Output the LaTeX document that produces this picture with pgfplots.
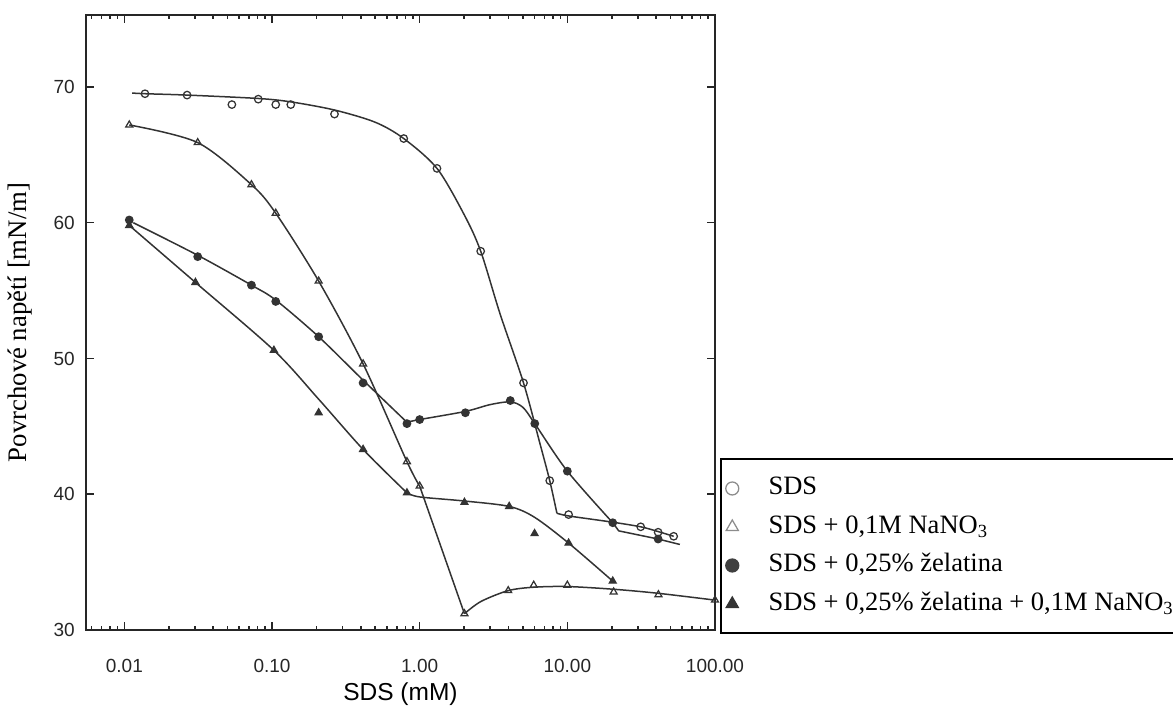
\documentclass[border=0pt]{standalone}
\usepackage{fontspec}
\setmainfont{Liberation Serif}
\setsansfont{Liberation Sans}
\usepackage{pgfplots}
\pgfplotsset{compat=1.18}
\pgfplotsset{
  mk/.style={only marks, black!80, line width=0.5pt,
    legend image code/.code={\path[draw=none, fill=none] (0pt,0pt) (15pt,0pt);
      \draw[mark repeat=2, mark phase=2, ##1]
      plot coordinates {(0pt,0pt) (3.5pt,0pt) (15pt,0pt)};}},
  crv/.style={black!80, line width=0.6pt, forget plot},
}

\begin{document}
\begin{tikzpicture}
\begin{axis}[
  at={(0,0)}, anchor=south west,
  scale only axis, width=251.6pt, height=246pt,
  xmode=log, xmin=0.0055, xmax=100, ymin=30, ymax=75.3,
  xtick={0.01,0.1,1,10,100},
  xticklabels={0.01,0.10,1.00,10.00,100.00},
  minor xtick={0.006,0.007,0.008,0.009,0.02,0.03,0.04,0.05,0.06,0.07,0.08,0.09,
    0.2,0.3,0.4,0.5,0.6,0.7,0.8,0.9,2,3,4,5,6,7,8,9,20,30,40,50,60,70,80,90},
  ytick={30,40,50,60,70},
  tick align=inside,
  major tick length=3.2pt, minor tick length=1.6pt,
  axis line style={line width=0.9pt, black!85},
  every tick/.style={black!85, line width=0.6pt},
  tick label style={font=\sffamily\fontsize{7.6}{9}\selectfont, black!85},
  /pgf/number format/assume math mode=true,
  xticklabel style={yshift=-8pt},
  yticklabel style={xshift=-1pt},
  xlabel={SDS (mM)},
  ylabel={Povrchové napětí [mN/m]},
  xlabel style={font=\sffamily\fontsize{9.8}{11}\selectfont,
    at={(axis description cs:0.5,-0.104)}, anchor=center},
  ylabel style={font=\fontsize{10.7}{12}\selectfont,
    at={(axis description cs:-0.105,0.5)}, anchor=center},
  clip mode=individual,
  legend cell align=left,
  legend style={at={(axis description cs:1.008,-0.0065)}, anchor=south west,
    draw=black, line width=0.8pt, fill=white,
    inner xsep=1pt, inner ysep=3.9pt,
    font=\fontsize{10.6}{12}\selectfont,
    nodes={inner xsep=3pt, inner ysep=2.8pt, text height=7.4pt, text depth=2.4pt}},
]

% --- markers ---
\addplot[mk, mark=o, mark size=1.5pt,
  legend image post style={mark size=2.6pt, black!45}]
table {
x y
0.0138 69.5
0.0266 69.4
0.0535 68.7
0.0807 69.1
0.106 68.7
0.134 68.7
0.265 68.0
0.78 66.2
1.31 64.0
2.59 57.9
5.05 48.2
7.6 41.0
10.2 38.5
31.4 37.6
41.2 37.2
52.5 36.9
};
\addlegendentry{SDS}

\addplot[mk, mark=triangle, mark size=1.6pt,
  legend image post style={mark size=2.8pt, black!45}]
table {
x y
0.0108 67.2
0.0314 65.9
0.0726 62.8
0.106 60.7
0.207 55.7
0.414 49.6
0.82 42.4
1.0 40.6
2.01 31.2
3.98 32.9
5.92 33.3
10 33.3
20.6 32.8
41.4 32.6
100 32.2
};
\addlegendentry{SDS + 0,1M NaNO\textsubscript{3}}

\addplot[mk, mark=*, mark size=1.5pt,
  legend image post style={mark size=2.6pt, black!75}]
table {
x y
0.0108 60.2
0.0314 57.5
0.0726 55.4
0.106 54.2
0.207 51.6
0.414 48.2
0.82 45.2
1.0 45.5
2.04 46.0
4.11 46.9
6.02 45.2
10 41.7
20.3 37.9
41.2 36.7
};
\addlegendentry{SDS + 0,25\% želatina}

\addplot[mk, mark=triangle*, mark size=1.6pt,
  legend image post style={mark size=2.8pt, black!80}]
table {
x y
0.0108 59.8
0.0303 55.6
0.103 50.6
0.207 46.0
0.414 43.3
0.82 40.1
2.01 39.4
4.04 39.1
6.0 37.1
10.2 36.4
20.3 33.6
};
\addlegendentry{SDS + 0,25\% želatina + 0,1M NaNO\textsubscript{3}}

% --- hand-drawn curves ---
% SDS
\addplot[crv, smooth, tension=0.5] table {
x y
0.0113 69.55
0.0138 69.5
0.0266 69.4
0.0807 69.15
0.134 68.9
0.265 68.3
0.5 67.4
0.78 66.2
1.31 64.0
2.0 60.6
2.59 57.9
3.5 53.3
5.05 48.2
6.5 43.8
7.6 41.0
8.5 38.6
};
\addplot[crv, smooth, tension=0.5] table {
x y
8.5 38.6
10.2 38.4
20 37.95
31.4 37.6
41.2 37.25
52.5 36.9
};
% SDS + NaNO3
\addplot[crv, smooth, tension=0.5] table {
x y
0.0108 67.2
0.0314 65.9
0.0726 62.8
0.106 60.7
0.207 55.7
0.414 49.6
0.82 42.4
1.0 40.6
};
\addplot[crv] table {
x y
1.0 40.6
2.01 31.2
};
\addplot[crv, smooth, tension=0.5] table {
x y
2.01 31.2
2.6 32.1
3.98 32.9
5.92 33.15
10 33.2
20.6 33.0
41.4 32.7
100 32.2
};
% SDS + gelatin
\addplot[crv, smooth, tension=0.5] table {
x y
0.0115 60.0
0.0314 57.6
0.0726 55.4
0.106 54.3
0.207 51.6
0.414 48.4
0.82 45.3
};
\addplot[crv, smooth, tension=0.5] table {
x y
0.82 45.3
1.0 45.5
2.04 46.1
3.0 46.6
4.11 46.8
5.0 46.4
6.02 45.2
10 41.7
20.3 37.9
};
\addplot[crv] table {
x y
20.3 37.9
22.3 37.3
41.2 36.7
57.8 36.3
};
% SDS + gelatin + NaNO3
\addplot[crv, smooth, tension=0.5] table {
x y
0.0108 59.8
0.0303 55.6
0.103 50.6
0.207 47.0
0.414 43.3
0.82 40.1
};
\addplot[crv, smooth, tension=0.5] table {
x y
0.82 40.1
1.0 39.8
2.01 39.5
4.04 39.1
6.0 38.3
10.2 36.4
20.3 33.6
};
\end{axis}
\pgfresetboundingbox
\path[use as bounding box] (-34.4pt,-30.4pt) rectangle (434.8pt,252pt);
\end{tikzpicture}
\end{document}
